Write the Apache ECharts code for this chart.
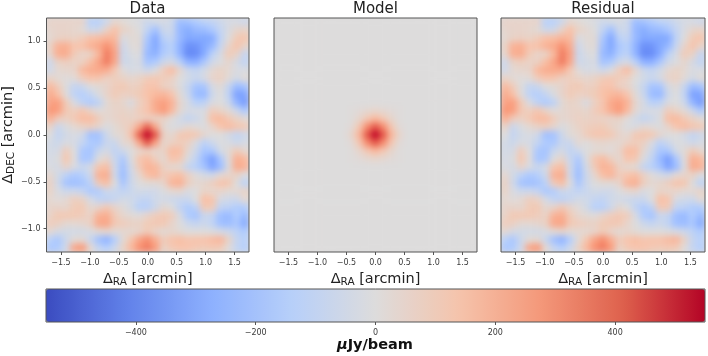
<!DOCTYPE html>
<html>
<head>
<meta charset="utf-8">
<script src="https://cdn.jsdelivr.net/npm/echarts@6/dist/echarts.min.js"></script>
<style>
  html, body { margin: 0; padding: 0; background: #fff; }
  #page { position: relative; width: 708px; height: 356px; overflow: hidden; }
  #mapsClip {
    position: absolute; left: 0; top: 0; width: 708px; height: 356px; background: #dddcdc;
    clip-path: path('M46 18h203v234h-203z M274 18h203v234h-203z M501 18h204v234h-204z');
  }
  #maps { position: absolute; left: 0; top: 0; width: 708px; height: 356px; filter: blur(3px) saturate(1.08); }
  #axes { position: absolute; left: 0; top: 0; width: 708px; height: 356px; }
</style>
</head>
<body>
<div id="page">
  <div id="mapsClip"><div id="maps"></div></div>
  <div id="axes"></div>
</div>
<script>
// values, uJy/beam, rows top to bottom
const dataMap = [
[50,50,50,50,50,-130,-130,-60,40,20,0,-20,-60,-40,-30,-60,-220,-200,-160,-120,-100,-60,-30,-30,-60],
[40,50,50,40,20,-60,-50,60,140,60,30,0,-100,-200,-60,-60,-240,-280,-230,-220,-170,-90,-20,40,60],
[30,60,70,60,90,140,150,180,170,-20,20,20,-170,-300,-120,-90,-230,-300,-290,-300,-290,-110,0,100,130],
[60,190,200,130,140,190,220,290,210,-60,10,20,-200,-300,-170,-130,-260,-370,-360,-300,-240,-80,50,130,60],
[40,200,210,100,50,60,170,340,240,-70,-20,0,-230,-270,-150,-110,-250,-390,-380,-290,-120,-30,100,60,-90],
[-60,60,80,60,70,150,230,340,220,-60,-40,-20,-190,-160,-60,-30,-120,-260,-270,-170,-50,-10,40,-30,-100],
[-50,30,40,50,170,210,220,210,110,10,-30,-20,-60,-10,90,160,40,-60,-90,-40,30,60,30,-20,-20],
[60,20,10,20,90,130,120,70,80,60,40,60,100,110,90,70,0,-40,-70,-30,50,70,20,-40,20],
[170,90,0,-90,-70,0,20,50,90,110,70,80,130,130,70,50,-10,-80,-190,-180,-30,20,-80,-220,-190],
[220,140,10,-110,-140,-90,-10,50,100,70,80,100,140,170,180,130,20,-70,-220,-240,-60,0,-100,-320,-310],
[240,250,100,-20,-110,-160,-110,20,60,40,-20,70,120,220,250,190,40,-30,-130,-110,-20,0,-60,-250,-340],
[280,250,110,80,120,60,10,30,50,60,40,90,130,210,270,170,30,-30,-20,-20,90,60,20,-60,-170],
[200,90,70,110,160,160,90,30,50,70,60,70,80,60,60,10,-40,-90,-60,-10,150,170,110,60,20],
[60,-70,-10,30,60,80,40,-10,20,60,90,220,400,220,30,-10,-20,30,10,-10,50,130,160,120,110],
[0,-90,-40,-20,-50,-200,-190,-60,20,30,130,400,550,420,70,30,110,120,110,40,0,0,-40,-90,-60],
[-40,-60,-20,-30,-90,-160,-170,-70,-70,30,40,220,420,240,40,70,90,70,-20,-120,-60,-10,-20,-60,-30],
[-40,-30,90,0,-170,-190,-70,-30,-100,-60,0,40,70,40,60,160,150,30,-60,-180,-170,-40,20,100,40],
[-30,-10,120,10,-180,-170,0,50,-70,-170,-10,120,160,80,30,130,110,-10,-100,-230,-330,-180,10,200,170],
[-20,-30,50,-20,-70,-30,120,150,-50,-200,-40,100,190,170,70,30,20,-90,-130,-190,-310,-220,-10,210,190],
[40,-40,-120,-170,-140,-60,190,210,-50,-220,-60,40,150,180,90,130,150,70,10,-30,-50,30,50,60,-20],
[70,-50,-190,-210,-190,-120,100,150,0,-180,-60,0,20,20,50,180,200,80,30,40,80,130,120,0,-120],
[60,-20,-60,-60,-90,-170,-150,-60,-70,-100,-70,-40,-50,-50,-10,30,40,-20,0,60,40,50,20,30,60],
[30,10,30,80,60,-30,-100,-110,-80,-40,-50,-90,-100,-50,-40,-60,-70,-70,0,150,130,-30,-50,-60,30],
[50,50,40,100,110,30,50,110,50,10,-40,-130,-130,-60,30,0,-100,-160,-110,110,100,-100,-110,-150,-150],
[60,110,110,110,90,60,190,210,100,40,20,10,50,90,110,90,-20,-160,-190,-70,-90,-210,-230,-150,-230],
[90,70,30,30,40,70,220,230,110,90,70,60,100,110,110,50,0,-60,-90,-60,-100,-210,-220,-170,-290],
[30,-30,-40,-40,-40,-20,20,40,20,30,30,50,100,50,20,40,20,0,0,0,-10,-30,-60,-110,-160],
[-130,-170,-60,20,30,-70,-200,-260,-140,20,120,230,300,200,90,130,150,120,130,130,160,180,60,-80,-130],
[-170,-160,-50,230,270,30,-90,-140,-60,60,170,290,340,260,60,110,130,130,110,100,110,100,10,-90,-140]
];
const modelMap = [
[0,0,0,0,0,0,0,0,0,0,0,0,0,0,0,0,0,0,0,0,0,0,0,0,0],
[0,0,0,0,0,0,0,0,0,0,0,0,0,0,0,0,0,0,0,0,0,0,0,0,0],
[0,0,0,0,0,0,0,0,0,0,0,0,0,0,0,0,0,0,0,0,0,0,0,0,0],
[0,0,0,0,0,0,0,0,0,0,0,0,0,0,0,0,0,0,0,0,0,0,0,0,0],
[0,0,0,0,0,0,0,0,0,0,0,0,0,0,0,0,0,0,0,0,0,0,0,0,0],
[0,0,0,0,0,0,0,0,0,0,0,0,0,0,0,0,0,0,0,0,0,0,0,0,0],
[0,0,0,0,0,0,0,0,0,0,0,0,0,0,0,0,0,0,0,0,0,0,0,0,0],
[0,0,0,0,0,0,0,0,0,0,0,0,0,0,0,0,0,0,0,0,0,0,0,0,0],
[0,0,0,0,0,0,0,0,0,0,0,0,0,0,0,0,0,0,0,0,0,0,0,0,0],
[0,0,0,0,0,0,0,0,0,0,0,0,0,0,0,0,0,0,0,0,0,0,0,0,0],
[0,0,0,0,0,0,0,0,0,0,0,0,0,0,0,0,0,0,0,0,0,0,0,0,0],
[0,0,0,0,0,0,0,0,0,5,15,30,40,30,15,5,0,0,0,0,0,0,0,0,0],
[0,0,0,0,0,0,0,0,0,5,40,110,170,110,40,5,0,0,0,0,0,0,0,0,0],
[0,0,0,0,0,0,0,0,0,15,110,300,420,300,110,15,0,0,0,0,0,0,0,0,0],
[0,0,0,0,0,0,0,0,0,40,170,420,550,420,170,40,0,0,0,0,0,0,0,0,0],
[0,0,0,0,0,0,0,0,0,15,110,300,420,300,110,15,0,0,0,0,0,0,0,0,0],
[0,0,0,0,0,0,0,0,0,5,40,110,170,110,40,5,0,0,0,0,0,0,0,0,0],
[0,0,0,0,0,0,0,0,0,5,15,30,40,30,15,5,0,0,0,0,0,0,0,0,0],
[0,0,0,0,0,0,0,0,0,0,0,0,0,0,0,0,0,0,0,0,0,0,0,0,0],
[0,0,0,0,0,0,0,0,0,0,0,0,0,0,0,0,0,0,0,0,0,0,0,0,0],
[0,0,0,0,0,0,0,0,0,0,0,0,0,0,0,0,0,0,0,0,0,0,0,0,0],
[0,0,0,0,0,0,0,0,0,0,0,0,0,0,0,0,0,0,0,0,0,0,0,0,0],
[0,0,0,0,0,0,0,0,0,0,0,0,0,0,0,0,0,0,0,0,0,0,0,0,0],
[0,0,0,0,0,0,0,0,0,0,0,0,0,0,0,0,0,0,0,0,0,0,0,0,0],
[0,0,0,0,0,0,0,0,0,0,0,0,0,0,0,0,0,0,0,0,0,0,0,0,0],
[0,0,0,0,0,0,0,0,0,0,0,0,0,0,0,0,0,0,0,0,0,0,0,0,0],
[0,0,0,0,0,0,0,0,0,0,0,0,0,0,0,0,0,0,0,0,0,0,0,0,0],
[0,0,0,0,0,0,0,0,0,0,0,0,0,0,0,0,0,0,0,0,0,0,0,0,0],
[0,0,0,0,0,0,0,0,0,0,0,0,0,0,0,0,0,0,0,0,0,0,0,0,0]
];
const residualMap = [
[50,50,50,50,50,-130,-130,-60,40,20,0,-20,-60,-40,-30,-60,-220,-200,-160,-120,-100,-60,-30,-30,-60],
[40,50,50,40,20,-60,-50,60,140,60,30,0,-100,-200,-60,-60,-240,-280,-230,-220,-170,-90,-20,40,60],
[30,60,70,60,90,140,150,180,170,-20,20,20,-170,-300,-120,-90,-230,-300,-290,-300,-290,-110,0,100,130],
[60,190,200,130,140,190,220,290,210,-60,10,20,-200,-300,-170,-130,-260,-370,-360,-300,-240,-80,50,130,60],
[40,200,210,100,50,60,170,340,240,-70,-20,0,-230,-270,-150,-110,-250,-390,-380,-290,-120,-30,100,60,-90],
[-60,60,80,60,70,150,230,340,220,-60,-40,-20,-190,-160,-60,-30,-120,-260,-270,-170,-50,-10,40,-30,-100],
[-50,30,40,50,170,210,220,210,110,10,-30,-20,-60,-10,90,160,40,-60,-90,-40,30,60,30,-20,-20],
[60,20,10,20,90,130,120,70,80,60,40,60,100,110,90,70,0,-40,-70,-30,50,70,20,-40,20],
[170,90,0,-90,-70,0,20,50,90,110,70,80,130,130,70,50,-10,-80,-190,-180,-30,20,-80,-220,-190],
[220,140,10,-110,-140,-90,-10,50,100,70,80,100,140,170,180,130,20,-70,-220,-240,-60,0,-100,-320,-310],
[240,250,100,-20,-110,-160,-110,20,60,40,-20,70,120,220,250,190,40,-30,-130,-110,-20,0,-60,-250,-340],
[280,250,110,80,120,60,10,30,50,60,40,90,130,210,270,170,30,-30,-20,-20,90,60,20,-60,-170],
[200,90,70,110,160,160,90,30,50,70,60,70,60,50,60,10,-40,-90,-60,-10,150,170,110,60,20],
[60,-70,-10,30,60,80,40,-10,20,60,80,90,100,60,30,-10,-20,30,10,-10,50,130,160,120,110],
[0,-90,-40,-20,-50,-200,-190,-60,20,30,90,120,120,110,50,30,110,120,110,40,0,0,-40,-90,-60],
[-40,-60,-20,-30,-90,-160,-170,-70,-70,30,0,30,40,30,30,70,90,70,-20,-120,-60,-10,-20,-60,-30],
[-40,-30,90,0,-170,-190,-70,-30,-100,-60,0,20,20,10,50,160,150,30,-60,-180,-170,-40,20,100,40],
[-30,-10,120,10,-180,-170,0,50,-70,-170,-10,120,160,80,30,130,110,-10,-100,-230,-330,-180,10,200,170],
[-20,-30,50,-20,-70,-30,120,150,-50,-200,-40,100,190,170,70,30,20,-90,-130,-190,-310,-220,-10,210,190],
[40,-40,-120,-170,-140,-60,190,210,-50,-220,-60,40,150,180,90,130,150,70,10,-30,-50,30,50,60,-20],
[70,-50,-190,-210,-190,-120,100,150,0,-180,-60,0,20,20,50,180,200,80,30,40,80,130,120,0,-120],
[60,-20,-60,-60,-90,-170,-150,-60,-70,-100,-70,-40,-50,-50,-10,30,40,-20,0,60,40,50,20,30,60],
[30,10,30,80,60,-30,-100,-110,-80,-40,-50,-90,-100,-50,-40,-60,-70,-70,0,150,130,-30,-50,-60,30],
[50,50,40,100,110,30,50,110,50,10,-40,-130,-130,-60,30,0,-100,-160,-110,110,100,-100,-110,-150,-150],
[60,110,110,110,90,60,190,210,100,40,20,10,50,90,110,90,-20,-160,-190,-70,-90,-210,-230,-150,-230],
[90,70,30,30,40,70,220,230,110,90,70,60,100,110,110,50,0,-60,-90,-60,-100,-210,-220,-170,-290],
[30,-30,-40,-40,-40,-20,20,40,20,30,30,50,100,50,20,40,20,0,0,0,-10,-30,-60,-110,-160],
[-130,-170,-60,20,30,-70,-200,-260,-140,20,120,230,300,200,90,130,150,120,130,130,160,180,60,-80,-130],
[-170,-160,-50,230,270,30,-90,-140,-60,60,170,290,340,260,60,110,130,130,110,100,110,100,10,-90,-140]
];
const panelTitles = ["Data", "Model", "Residual"];
const raTicks = [-1.5, -1, -0.5, 0, 0.5, 1, 1.5];
const decTicks = [-1, -0.5, 0, 0.5, 1];
const barTicks = [-400, -200, 0, 200, 400];
const coolwarm = ["#3b4cc0", "#6282ea", "#8db0fe", "#b8d0f9", "#dddcdc", "#f5c4ac", "#f4987a", "#de614d", "#b40426"];
const valueLimit = 550;

const panels = [
  { map: dataMap, left: 46, width: 203 },
  { map: modelMap, left: 274, width: 203 },
  { map: residualMap, left: 501, width: 204 }
];
const plotTop = 18, plotHeight = 234;
const font = "DejaVu Sans";
const inkColor = "#222";

function cells(map) {
  const out = [];
  map.forEach((row, r) => row.forEach((v, c) => out.push([c, r, v])));
  return out;
}
const signed = v => v.toString().replace("-", "\u2212");
const oneDecimal = v => v.toFixed(1).replace("-", "\u2212");

// heatmaps, blurred underneath to get the smooth shading of the original
const maps = echarts.init(document.getElementById("maps"), null, { renderer: "canvas" });
const colIndex = dataMap[0].map((_, i) => i);
const rowIndex = dataMap.map((_, i) => i);
maps.setOption({
  animation: false,
  grid: panels.map(p => ({ left: p.left, width: p.width, top: plotTop, height: plotHeight })),
  xAxis: panels.map((p, i) => ({ type: "category", data: colIndex, gridIndex: i, show: false })),
  yAxis: panels.map((p, i) => ({ type: "category", data: rowIndex, gridIndex: i, inverse: true, show: false })),
  visualMap: { show: false, min: -valueLimit, max: valueLimit, inRange: { color: coolwarm } },
  series: panels.map((p, i) => ({
    type: "heatmap", xAxisIndex: i, yAxisIndex: i, data: cells(p.map), silent: true, progressive: 0
  }))
});

// frames, ticks, text and the colour bar on top
const subName = (sub) => `{d|\u0394}{s|${sub}}{d| [arcmin]}`;
const nameRich = {
  d: { fontFamily: font, fontSize: 14.5, color: inkColor },
  s: { fontFamily: font, fontSize: 10.5, color: inkColor, verticalAlign: "bottom", padding: [5, 0, 0, 0] }
};
const axes = echarts.init(document.getElementById("axes"), null, { renderer: "canvas" });
const tickLabel = { fontFamily: font, fontSize: 8, color: "#3a3a3a" };
const hiddenLine = { show: false, onZero: false };
axes.setOption({
  animation: false,
  title: panels.map((p, i) => ({
    text: panelTitles[i], left: p.left + p.width / 2, top: 2, textAlign: "center", padding: 0,
    textStyle: { fontFamily: font, fontSize: 15, fontWeight: "normal", color: inkColor }
  })).concat([{
    text: "{m|\u03bc}{b|Jy/beam}", left: 375, top: 338, textAlign: "center", padding: 0,
    textStyle: { rich: {
      m: { fontFamily: font, fontSize: 14.5, fontStyle: "italic", color: "#111" },
      b: { fontFamily: font, fontSize: 14.5, fontWeight: "bold", color: "#111" }
    } }
  }]),
  grid: panels.map(p => ({
    left: p.left, width: p.width, top: plotTop, height: plotHeight,
    show: true, borderColor: "#555", borderWidth: 1, backgroundColor: "transparent", z: 5
  })).concat([{
    left: 46, width: 659, top: 289, height: 33,
    show: true, borderColor: "#555", borderWidth: 1, backgroundColor: "transparent", z: 5
  }]),
  xAxis: panels.map((p, i) => ({
    type: "value", gridIndex: i, min: -1.75, max: 1.75,
    name: subName("RA"), nameLocation: "middle", nameGap: 13,
    nameTextStyle: { rich: nameRich },
    axisLine: hiddenLine, splitLine: { show: false },
    axisTick: { length: 3, lineStyle: { color: "#555" }, customValues: raTicks },
    axisLabel: { ...tickLabel, margin: 7, customValues: raTicks, formatter: oneDecimal }
  })).concat([{
    type: "value", gridIndex: 3, min: -valueLimit, max: valueLimit,
    axisLine: hiddenLine, splitLine: { show: false },
    axisTick: { length: 3, lineStyle: { color: "#555" }, customValues: barTicks },
    axisLabel: { ...tickLabel, margin: 7, customValues: barTicks, formatter: signed }
  }]),
  yAxis: panels.map((p, i) => ({
    type: "value", gridIndex: i, min: -1.25, max: 1.25,
    name: i === 0 ? subName("DEC") : "", nameLocation: "middle", nameGap: 30,
    nameTextStyle: { rich: nameRich },
    axisLine: hiddenLine, splitLine: { show: false },
    axisTick: { show: i === 0, length: 3, lineStyle: { color: "#555" }, customValues: decTicks },
    axisLabel: { ...tickLabel, show: i === 0, margin: 6, customValues: decTicks, formatter: oneDecimal }
  })).concat([{
    type: "value", gridIndex: 3, min: 0, max: 1, show: false
  }]),
  visualMap: {
    type: "continuous", min: -valueLimit, max: valueLimit, orient: "horizontal",
    left: 46, top: 289, itemWidth: 33, itemHeight: 659, padding: 0,
    calculable: false, realtime: false, hoverLink: false, text: null, showLabel: false,
    seriesIndex: 0, inRange: { color: coolwarm }, z: 1,
    textStyle: { fontSize: 0 }, formatter: () => ""
  },
  series: [{ type: "scatter", xAxisIndex: 3, yAxisIndex: 3, data: [], silent: true }]
});
</script>
</body>
</html>
